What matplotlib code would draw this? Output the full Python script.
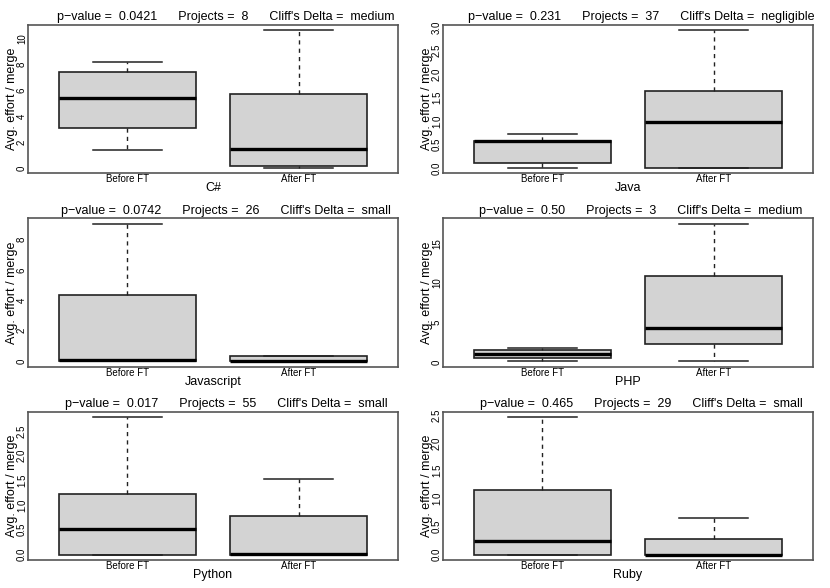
import matplotlib
matplotlib.use("Agg")
import matplotlib.pyplot as plt

plt.rcParams['font.family'] = ['Liberation Sans', 'DejaVu Sans']

languages = ["C#", "Java", "Javascript", "PHP", "Python", "Ruby"]
p_values = ["0.0421", "0.231", "0.0742", "0.50", "0.017", "0.465"]
projects = [8, 37, 26, 3, 55, 29]
cliffs = ["medium", "negligible", "small", "medium", "small", "small"]
groups = ["Before FT", "After FT"]

# five-number summaries: low whisker, q1, median, q3, high whisker
before_stats = [
    [1.38, 3.12, 5.40, 7.43, 8.23],
    [0.00, 0.107, 0.565, 0.58, 0.714],
    [0.00, 0.00, 0.09, 4.36, 9.03],
    [0.17, 0.51, 0.94, 1.45, 1.79],
    [0.00, 0.00, 0.52, 1.22, 2.78],
    [0.00, 0.00, 0.25, 1.16, 2.46],
]
after_stats = [
    [0.00, 0.18, 1.43, 5.71, 10.65],
    [0.00, 0.00, 0.98, 1.63, 2.93],
    [0.00, 0.00, 0.02, 0.33, 0.33],
    [0.09, 2.21, 4.34, 10.9, 17.5],
    [0.00, 0.00, 0.01, 0.77, 1.53],
    [0.00, 0.00, 0.00, 0.28, 0.66],
]
y_ticks = [
    [0, 2, 4, 6, 8, 10],
    [0, 0.5, 1.0, 1.5, 2.0, 2.5, 3.0],
    [0, 2, 4, 6, 8],
    [0, 5, 10, 15],
    [0, 0.5, 1.0, 1.5, 2.0, 2.5],
    [0, 0.5, 1.0, 1.5, 2.0, 2.5],
]
y_labels = [
    ["0", "2", "4", "6", "8", "10"],
    ["0.0", "0.5", "1.0", "1.5", "2.0", "2.5", "3.0"],
    ["0", "2", "4", "6", "8"],
    ["0", "5", "10", "15"],
    ["0.0", "0.5", "1.0", "1.5", "2.0", "2.5"],
    ["0.0", "0.5", "1.0", "1.5", "2.0", "2.5"],
]


def make_stats(row, label):
    lo, q1, med, q3, hi = row
    return {"whislo": lo, "q1": q1, "med": med, "q3": q3, "whishi": hi,
            "fliers": [], "label": label}


fig, axes = plt.subplots(3, 2, figsize=(8.3, 5.88), dpi=100)
fig.subplots_adjust(left=28 / 830, right=813 / 830, top=1 - 25 / 588,
                    bottom=1 - 560 / 588, wspace=45 / 370, hspace=0.303)

for i, ax in enumerate(axes.flat):
    stats = [make_stats(before_stats[i], groups[0]),
             make_stats(after_stats[i], groups[1])]
    ax.bxp(stats, positions=[1, 2], widths=0.8, patch_artist=True,
           showfliers=False,
           boxprops=dict(facecolor="#d3d3d3", edgecolor="#222222", linewidth=1.2),
           medianprops=dict(color="black", linewidth=2.4, solid_capstyle="butt"),
           whiskerprops=dict(color="#222222", linewidth=1.0, linestyle=(0, (3, 3))),
           capprops=dict(color="#222222", linewidth=1.1),
           capwidths=0.4)
    ax.set_xlim(0.42, 2.58)
    lo = min(before_stats[i][0], after_stats[i][0])
    hi = max(before_stats[i][4], after_stats[i][4])
    pad = 0.04 * (hi - lo)
    ax.set_ylim(lo - pad, hi + pad)
    ax.set_yticks(y_ticks[i])
    ax.set_yticklabels(y_labels[i], rotation=90, va="center", fontsize=7)
    ax.set_xticks([1, 2])
    ax.set_xticklabels(groups, fontsize=7)
    ax.tick_params(axis="both", length=0, pad=0.8)
    for s in ax.spines.values():
        s.set_color("#555555")
        s.set_linewidth(1.2)
    ax.set_ylabel("Avg. effort / merge", fontsize=9)
    ax.yaxis.set_label_coords(-0.028, 0.5)
    ax.set_xlabel(languages[i], fontsize=9)
    ax.xaxis.set_label_coords(0.5, -0.06)
    title = ("p\u2212value =  " + p_values[i] + "      Projects =  "
             + str(projects[i]) + "      Cliff's Delta =  " + cliffs[i])
    ax.text(0.535, 1.012, title, transform=ax.transAxes, ha="center",
            va="bottom", fontsize=9)

fig.savefig("out.png", dpi=100)
